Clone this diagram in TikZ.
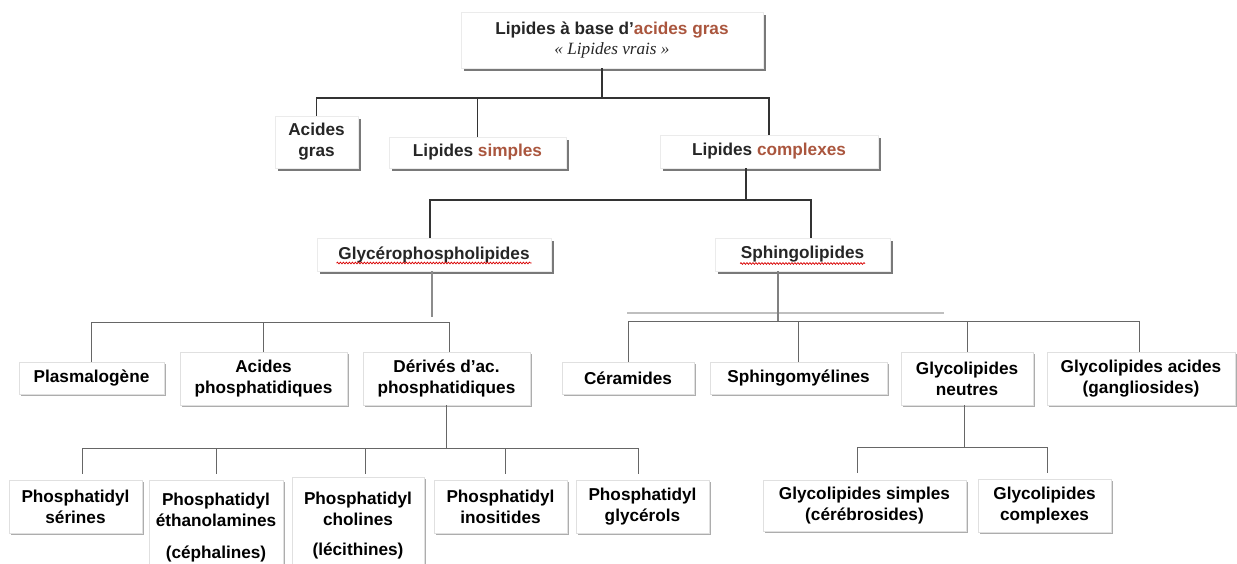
\documentclass[tikz,border=0pt]{standalone}
\usepackage{fontspec}
\setmainfont{Liberation Sans}
\newfontfamily\titleserif{Liberation Serif}
\usetikzlibrary{shadows,calc,decorations.pathmorphing}
\definecolor{brick}{RGB}{170,86,62}
\tikzset{
  box/.style={draw=black!12, fill=white, align=center, inner sep=1pt,
    drop shadow={shadow xshift=2pt, shadow yshift=-2pt, fill=black!40, opacity=.8}},
  hibox/.style={draw=black!8, fill=white, align=center, inner sep=1pt, text=black!85,
    drop shadow={shadow xshift=3pt, shadow yshift=-3pt, fill=black!75, opacity=.7}},
  upline/.style={draw=black!80, line width=1.3pt},
  lowline/.style={draw=black!60, line width=1pt},
  spell/.style={draw=red!85!black, line width=0.7pt, decorate,
    decoration={snake, amplitude=0.9pt, segment length=3pt}},
}
\begin{document}
\begin{tikzpicture}[x=1pt,y=1pt,yscale=-1,xscale=1,
    every node/.style={font=\fontsize{17.2}{21}\selectfont\bfseries}]
    \useasboundingbox (0,0) rectangle (1237,563);

    % levels of the bars
    \coordinate (bar1) at (0,98);
    \coordinate (bar2) at (0,200);
    \coordinate (bar3) at (0,322);
    \coordinate (bar3r) at (0,321);
    \coordinate (bar4) at (0,448);
    \coordinate (bar4r) at (0,447);

    % upper boxes
    \node[hibox, minimum width=302pt, minimum height=56pt] (top) at (612,40)
        {Lipides à base d'\textcolor{brick}{acides gras}\\[-1pt]
         {\titleserif\mdseries\itshape «~Lipides vrais~»}};
    \node[hibox, minimum width=83pt, minimum height=52pt] (acgras) at (316.5,142) {Acides\\gras};
    \node[hibox, minimum width=177pt, minimum height=31pt] (lsimp) at (477.5,152.5)
        {Lipides \textcolor{brick}{simples}};
    \node[hibox, minimum width=218pt, minimum height=33pt] (lcomp) at (769,151.5)
        {Lipides \textcolor{brick}{complexes}};
    \node[hibox, minimum width=234pt, minimum height=33pt] (glyc) at (434,254.5)
        {Glycérophospholipides};
    \node[hibox, minimum width=175pt, minimum height=33pt] (sphingo) at (802.5,254.5)
        {Sphingolipides};

    % Glycérophospholipides
    \node[box, minimum width=145pt, minimum height=32pt] (plasm) at (91.5,378) {Plasmalogène};
    \node[box, minimum width=167pt, minimum height=53pt] (acphos) at (263.5,378.5)
        {Acides\\phosphatidiques};
    \node[box, minimum width=167pt, minimum height=53pt] (deriv) at (446.5,378.5)
        {Dérivés d’ac.\\phosphatidiques};

    % Sphingolipides
    \node[box, minimum width=132pt, minimum height=32pt] (ceram) at (628,378) {Céramides};
    \node[box, minimum width=177pt, minimum height=32pt] (sphmy) at (798.5,378) {Sphingomyélines};
    \node[box, minimum width=132pt, minimum height=53pt] (gneut) at (967,378.5)
        {Glycolipides\\neutres};
    \node[box, minimum width=188pt, minimum height=53pt] (gacid) at (1141,378.5)
        {Glycolipides acides\\(gangliosides)};

    % Phosphatidyl ...
    \node[box, minimum width=133pt, minimum height=53pt] (pser) at (75.5,506.5)
        {Phosphatidyl\\sérines};
    \node[box, minimum width=134pt, minimum height=95pt] (peth) at (216,527.5)
        {Phosphatidyl\\éthanolamines\\[11pt](céphalines)};
    \node[box, minimum width=132pt, minimum height=98pt] (pchol) at (358,526)
        {Phosphatidyl\\cholines\\[9pt](lécithines)};
    \node[box, minimum width=133pt, minimum height=53pt] (pino) at (500.5,506.5)
        {Phosphatidyl\\inositides};
    \node[box, minimum width=133pt, minimum height=53pt] (pgly) at (642.5,506.5)
        {Phosphatidyl\\glycérols};

    % Glycolipides neutres
    \node[box, minimum width=203pt, minimum height=51pt] (gsimp) at (864.5,505.5)
        {Glycolipides simples\\(cérébrosides)};
    \node[box, minimum width=133pt, minimum height=53pt] (gcomp) at (1044.5,505.5)
        {Glycolipides\\complexes};

    % spell check marks
    \draw[spell] ($(glyc.center)+(-97.5,8.5)$) -- ($(glyc.center)+(97.5,8.5)$);
    \draw[spell] ($(sphingo.center)+(-62.5,9)$) -- ($(sphingo.center)+(62.5,9)$);

    % points where the connectors leave or meet a box
    \coordinate (topout) at ([xshift=-10pt]top.south);
    \coordinate (compout) at ([xshift=-23pt]lcomp.south);
    \coordinate (glycin) at ([xshift=-4pt]glyc.north);
    \coordinate (glycout) at ([xshift=-2pt]glyc.south);
    \coordinate (sphin) at ([xshift=8.5pt]sphingo.north);
    \coordinate (sphout) at ([xshift=-24.5pt]sphingo.south);
    \coordinate (derivin) at ([xshift=2.5pt]deriv.north);
    \coordinate (gacidin) at ([xshift=-2pt]gacid.north);
    \coordinate (gneutout) at ([xshift=-3pt]gneut.south);
    \coordinate (pserin) at ([xshift=6.5pt]pser.north);
    \coordinate (pcholin) at ([xshift=7pt]pchol.north);
    \coordinate (pinoin) at ([xshift=4.5pt]pino.north);
    \coordinate (pglyin) at ([xshift=-4.5pt]pgly.north);
    \coordinate (gsimpin) at ([xshift=-7.5pt]gsimp.north);
    \coordinate (gcompin) at ([xshift=2.5pt]gcomp.north);

    % upper tree
    \draw[upline] (topout) -- (topout |- bar1);
    \draw[upline] (acgras.north) |- (lcomp.north |- bar1) -- (lcomp.north);
    \draw[upline] (lsimp.north) -- (lsimp.north |- bar1);
    \draw[upline] (compout) -- (compout |- bar2);
    \draw[upline] (glycin) |- (sphin |- bar2) -- (sphin);

    % Glycérophospholipides tree
    \draw[lowline, line width=1.4pt, draw=black!45, shorten >=5pt] (glycout) -- (glycout |- bar3);
    \draw[lowline] (plasm.north) |- (derivin |- bar3) -- (derivin);
    \draw[lowline] (acphos.north) -- (acphos.north |- bar3);

    % Sphingolipides tree
    \draw[draw=black!25, line width=1.5pt] (627,313) -- (944,313);
    \draw[lowline, line width=1.4pt, draw=black!50] (sphout) -- (sphout |- bar3r);
    \draw[lowline] (ceram.north) |- (gacidin |- bar3r) -- (gacidin);
    \draw[lowline] (sphmy.north) -- (sphmy.north |- bar3r);
    \draw[lowline] (gneut.north) -- (gneut.north |- bar3r);

    % Dérivés tree
    \draw[lowline] (deriv.south) -- (deriv.south |- bar4);
    \draw[lowline] (pserin |- bar4) -- (pglyin |- bar4);
    \draw[lowline, shorten >=6pt] (pserin |- bar4) -- (pserin);
    \draw[lowline, shorten >=6pt] (peth.north |- bar4) -- (peth.north);
    \draw[lowline, shorten >=3pt] (pcholin |- bar4) -- (pcholin);
    \draw[lowline, shorten >=6pt] (pinoin |- bar4) -- (pinoin);
    \draw[lowline, shorten >=6pt] (pglyin |- bar4) -- (pglyin);

    % Glycolipides neutres tree
    \draw[lowline] (gneutout) -- (gneutout |- bar4r);
    \draw[lowline] (gsimpin |- bar4r) -- (gcompin |- bar4r);
    \draw[lowline, shorten >=7pt] (gsimpin |- bar4r) -- (gsimpin);
    \draw[lowline, shorten >=6pt] (gcompin |- bar4r) -- (gcompin);
\end{tikzpicture}
\end{document}
